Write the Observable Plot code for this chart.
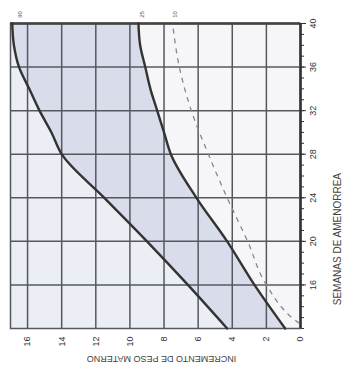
<!DOCTYPE html>
<html><head><meta charset="utf-8">
<script src="https://cdn.jsdelivr.net/npm/d3@7"></script>
<script src="https://cdn.jsdelivr.net/npm/@observablehq/plot@0.6"></script>
<style>html,body{margin:0;padding:0;background:#fff;overflow:hidden}</style>
</head><body><div id="chart"></div>
<script>
// Semanas de amenorrea (eje vertical, a la derecha) e incremento de peso (kg, eje horizontal invertido)
const weeks = [12, 16, 20, 24, 28, 30, 32, 34, 36, 38, 40];
const p90 = [4.3, 6.6, 9.0, 11.5, 14.0, 14.6, 15.3, 15.9, 16.5, 16.8, 16.9];
const p25 = [0.9, 2.7, 4.3, 6.1, 7.6, 8.0, 8.4, 8.8, 9.1, 9.4, 9.5];
const dashWeeks = [12.5, 13, 16, 20, 24, 28, 32, 36, 40];
const p10 = [0.1, 0.5, 2.0, 3.1, 4.3, 5.4, 6.4, 7.1, 7.5];
const kgTicks = [0, 2, 4, 6, 8, 10, 12, 14, 16];
const weekTicks = [16, 20, 24, 28, 32, 36, 40];
const curveLabels = ["90", "25", "10"];
const curveLabelKg = [16.6, 9.4, 7.5];
const yTitle = "SEMANAS DE AMENORREA";
const xTitle = "INCREMENTO DE PESO MATERNO";

const band = weeks.map((w, i) => ({w, lo: p25[i], hi: p90[i]}));
const dashed = dashWeeks.map((w, i) => ({w, v: p10[i]}));
const tops = curveLabels.map((t, i) => ({t, x: curveLabelKg[i]}));

const font = "Liberation Sans, Arial, sans-serif";
const plot = Plot.plot({
  width: 346, height: 367,
  marginTop: 23, marginBottom: 39, marginLeft: 10, marginRight: 46,
  style: {fontFamily: font, background: "#fff", color: "#333"},
  x: {domain: [0, 17], reverse: true},
  y: {domain: [12, 40]},
  marks: [
    Plot.rect([0], {x1: 0, x2: 17, y1: 12, y2: 40, fill: "#f6f6f8"}),
    Plot.areaX(band, {y: "w", x1: "hi", x2: 17, fill: "#eceef5", curve: "monotone-y"}),
    Plot.areaX(band, {y: "w", x1: "lo", x2: "hi", fill: "#d9ddeb", curve: "monotone-y"}),
    Plot.gridX({ticks: kgTicks, stroke: "#55585f", strokeOpacity: 1, strokeWidth: 1.5}),
    Plot.gridY({ticks: weekTicks, stroke: "#55585f", strokeOpacity: 1, strokeWidth: 1.5}),
    Plot.frame({stroke: "#55585f", strokeWidth: 1.5}),
    Plot.ruleY([40], {stroke: "#444", strokeWidth: 2.5}),
    Plot.ruleX([0], {stroke: "#333", strokeWidth: 2.5}),
    Plot.lineX(band, {y: "w", x: "hi", stroke: "#333", strokeWidth: 2.4, curve: "monotone-y"}),
    Plot.lineX(band, {y: "w", x: "lo", stroke: "#333", strokeWidth: 2.4, curve: "monotone-y"}),
    Plot.lineX(dashed, {y: "w", x: "v", stroke: "#888", strokeWidth: 1.3, strokeDasharray: "4,6", curve: "monotone-y"}),
    Plot.axisY({anchor: "right", ticks: d3.range(12, 41), tickSize: 3, tickFormat: () => "", label: null, stroke: "#333"}),
    Plot.axisY({anchor: "right", ticks: weekTicks, tickSize: 5, tickPadding: 10, tickRotate: -90, fontSize: 9, label: null, stroke: "#333"}),
    Plot.axisX({ticks: kgTicks, tickSize: 0, tickPadding: 8, tickRotate: -90, fontSize: 9, label: null}),
    Plot.text([yTitle], {frameAnchor: "right", dx: 37, dy: -3, rotate: -90, fontSize: 10, fill: "#444"}),
    Plot.text([xTitle], {frameAnchor: "bottom", dx: 6, dy: 27, rotate: 180, fontSize: 9, fill: "#444"}),
    Plot.text(tops, {x: "x", frameAnchor: "top", dy: -9, text: "t", rotate: -90, fontSize: 6, fill: "#555"})
  ]
});
document.getElementById("chart").append(plot);
</script></body></html>
